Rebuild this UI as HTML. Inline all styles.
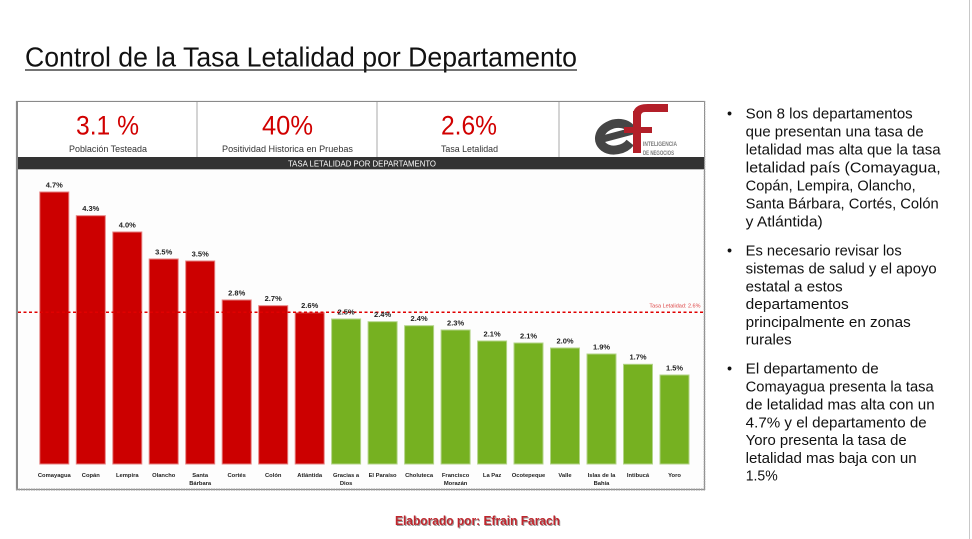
<!DOCTYPE html>
<html>
<head>
<meta charset="utf-8">
<style>
html,body{margin:0;padding:0;background:#fff;}
svg{display:block;}
text{font-family:"Liberation Sans",sans-serif;}
</style>
</head>
<body>
<svg width="972" height="539" viewBox="0 0 972 539" xmlns="http://www.w3.org/2000/svg">
<rect x="0" y="0" width="972" height="539" fill="#ffffff"/>
<line x1="969.5" y1="0" x2="969.5" y2="539" stroke="#c8c8c8" stroke-width="1"/>

<text x="25" y="66.5" font-size="28" fill="#111" textLength="552" lengthAdjust="spacingAndGlyphs">Control de la Tasa Letalidad por Departamento</text>
<line x1="25" y1="70" x2="577" y2="70" stroke="#222" stroke-width="1.3"/>

<rect x="16.5" y="101.5" width="688" height="388" fill="#fdfdfd" stroke="#8a8a8a" stroke-width="1.2"/>
<line x1="17" y1="101" x2="17" y2="490" stroke="#8a8a8a" stroke-width="2"/>
<line x1="16" y1="489.5" x2="705" y2="489.5" stroke="#9a9a9a" stroke-width="2" stroke-dasharray="1.5 1"/>
<line x1="704.5" y1="101" x2="704.5" y2="490" stroke="#9a9a9a" stroke-width="1.5" stroke-dasharray="1.5 1"/>
<rect x="18" y="102" width="686" height="55" fill="#ffffff"/>

<line x1="197" y1="102" x2="197" y2="157" stroke="#a8a8a8" stroke-width="1"/>
<line x1="377" y1="102" x2="377" y2="157" stroke="#a8a8a8" stroke-width="1"/>
<line x1="559" y1="102" x2="559" y2="157" stroke="#a8a8a8" stroke-width="1"/>

<text x="76" y="134.5" font-size="27" fill="#d10000" textLength="63" lengthAdjust="spacingAndGlyphs">3.1 %</text>
<text x="262" y="134.5" font-size="27" fill="#d10000" textLength="51" lengthAdjust="spacingAndGlyphs">40%</text>
<text x="441" y="134.5" font-size="27" fill="#d10000" textLength="56" lengthAdjust="spacingAndGlyphs">2.6%</text>
<text x="69" y="152" font-size="9" fill="#333" textLength="78" lengthAdjust="spacingAndGlyphs">Población Testeada</text>
<text x="222" y="152" font-size="9" fill="#333" textLength="131" lengthAdjust="spacingAndGlyphs">Positividad Historica en Pruebas</text>
<text x="441" y="152" font-size="9" fill="#333" textLength="57" lengthAdjust="spacingAndGlyphs">Tasa Letalidad</text>

<!-- Logo -->
<g>
  <g transform="rotate(-15 616 136)">
    <path d="M633 136 A17 13 0 1 0 628 146" fill="none" stroke="#454545" stroke-width="9"/>
    <rect x="598" y="132" width="38" height="7" fill="#454545"/>
  </g>
  <rect x="633" y="111" width="8" height="42" fill="#b31f29"/>
  <path d="M633 114 Q634 104 648 104 L668 104 L668 112 L645 112 Q641 112 641 116 Z" fill="#b31f29"/>
  <rect x="624" y="127" width="28" height="6" fill="#b31f29"/>
  <text x="643" y="146" font-size="6.5" font-weight="bold" fill="#7a7a7a" textLength="34" lengthAdjust="spacingAndGlyphs">INTELIGENCIA</text>
  <text x="643" y="155" font-size="6.5" font-weight="bold" fill="#7a7a7a" textLength="31" lengthAdjust="spacingAndGlyphs">DE NEGOCIOS</text>
</g>

<rect x="18" y="157" width="686" height="12" fill="#333333"/>
<line x1="18" y1="169.5" x2="704" y2="169.5" stroke="#bdbdbd" stroke-width="1"/>
<text x="288" y="166.5" font-size="8" fill="#ffffff" textLength="148" lengthAdjust="spacingAndGlyphs">TASA LETALIDAD POR DEPARTAMENTO</text>

<g stroke-width="1">
<rect x="39.8" y="192" width="29" height="272" fill="#cc0000" stroke="#e58080"/>
<rect x="76.3" y="215.7" width="29" height="248.3" fill="#cc0000" stroke="#e58080"/>
<rect x="112.8" y="232" width="29" height="232" fill="#cc0000" stroke="#e58080"/>
<rect x="149.2" y="259" width="29" height="205" fill="#cc0000" stroke="#e58080"/>
<rect x="185.7" y="261" width="29" height="203" fill="#cc0000" stroke="#e58080"/>
<rect x="222.2" y="300" width="29" height="164" fill="#cc0000" stroke="#e58080"/>
<rect x="258.7" y="305.7" width="29" height="158.3" fill="#cc0000" stroke="#e58080"/>
<rect x="295.2" y="312.7" width="29" height="151.3" fill="#cc0000" stroke="#e58080"/>
<rect x="331.6" y="319" width="29" height="145" fill="#76b121" stroke="#b2d488"/>
<rect x="368.1" y="321.7" width="29" height="142.3" fill="#76b121" stroke="#b2d488"/>
<rect x="404.6" y="325.7" width="29" height="138.3" fill="#76b121" stroke="#b2d488"/>
<rect x="441.1" y="330" width="29" height="134" fill="#76b121" stroke="#b2d488"/>
<rect x="477.6" y="341" width="29" height="123" fill="#76b121" stroke="#b2d488"/>
<rect x="514.0" y="343" width="29" height="121" fill="#76b121" stroke="#b2d488"/>
<rect x="550.5" y="348" width="29" height="116" fill="#76b121" stroke="#b2d488"/>
<rect x="587.0" y="354" width="29" height="110" fill="#76b121" stroke="#b2d488"/>
<rect x="623.5" y="364.3" width="29" height="99.7" fill="#76b121" stroke="#b2d488"/>
<rect x="660.0" y="375" width="29" height="89" fill="#76b121" stroke="#b2d488"/>
</g>

<line x1="18" y1="312.3" x2="703" y2="312.3" stroke="#e00000" stroke-width="1.5" stroke-dasharray="3 2.5"/>
<text x="700.5" y="307.5" font-size="5.5" fill="#d44" text-anchor="end">Tasa Letalidad: 2.6%</text>

<g font-size="7.5" font-weight="bold" fill="#222" text-anchor="middle">
<text x="54.3" y="187.5">4.7%</text>
<text x="90.8" y="211">4.3%</text>
<text x="127.3" y="227.5">4.0%</text>
<text x="163.7" y="254.5">3.5%</text>
<text x="200.2" y="256.5">3.5%</text>
<text x="236.7" y="295.5">2.8%</text>
<text x="273.2" y="301">2.7%</text>
<text x="309.7" y="308">2.6%</text>
<text x="346.1" y="314.5">2.5%</text>
<text x="382.6" y="317">2.4%</text>
<text x="419.1" y="321">2.4%</text>
<text x="455.6" y="325.5">2.3%</text>
<text x="492.1" y="336.5">2.1%</text>
<text x="528.5" y="338.5">2.1%</text>
<text x="565.0" y="343.5">2.0%</text>
<text x="601.5" y="349.5">1.9%</text>
<text x="638.0" y="359.5">1.7%</text>
<text x="674.5" y="370.5">1.5%</text>
</g>

<g font-size="5.8" font-weight="bold" fill="#222" text-anchor="middle">
<text x="54.3" y="477">Comayagua</text>
<text x="90.8" y="477">Copán</text>
<text x="127.3" y="477">Lempira</text>
<text x="163.7" y="477">Olancho</text>
<text x="200.2" y="477">Santa</text>
<text x="200.2" y="485">Bárbara</text>
<text x="236.7" y="477">Cortés</text>
<text x="273.2" y="477">Colón</text>
<text x="309.7" y="477">Atlántida</text>
<text x="346.1" y="477">Gracias a</text>
<text x="346.1" y="485">Dios</text>
<text x="382.6" y="477">El Paraíso</text>
<text x="419.1" y="477">Choluteca</text>
<text x="455.6" y="477">Francisco</text>
<text x="455.6" y="485">Morazán</text>
<text x="492.1" y="477">La Paz</text>
<text x="528.5" y="477">Ocotepeque</text>
<text x="565.0" y="477">Valle</text>
<text x="601.5" y="477">Islas de la</text>
<text x="601.5" y="485">Bahía</text>
<text x="638.0" y="477">Intibucá</text>
<text x="674.5" y="477">Yoro</text>
</g>

<g font-size="14.5" fill="#111">
<text x="727" y="118.5">•</text>
<text x="745.7" y="118.5" textLength="167" lengthAdjust="spacingAndGlyphs">Son 8 los departamentos</text>
<text x="745.7" y="136.6" textLength="178" lengthAdjust="spacingAndGlyphs">que presentan una tasa de</text>
<text x="745.7" y="154.6" textLength="195" lengthAdjust="spacingAndGlyphs">letalidad mas alta que la tasa</text>
<text x="745.7" y="172.7" textLength="195" lengthAdjust="spacingAndGlyphs">letalidad país (Comayagua,</text>
<text x="745.7" y="190.7" textLength="170" lengthAdjust="spacingAndGlyphs">Copán, Lempira, Olancho,</text>
<text x="745.7" y="208.7" textLength="193" lengthAdjust="spacingAndGlyphs">Santa Bárbara, Cortés, Colón</text>
<text x="745.7" y="226.7" textLength="77" lengthAdjust="spacingAndGlyphs">y Atlántida)</text>

<text x="727" y="255.5">•</text>
<text x="745.7" y="255.5" textLength="156" lengthAdjust="spacingAndGlyphs">Es necesario revisar los</text>
<text x="745.7" y="273.5" textLength="191" lengthAdjust="spacingAndGlyphs">sistemas de salud y el apoyo</text>
<text x="745.7" y="291.3" textLength="97" lengthAdjust="spacingAndGlyphs">estatal a estos</text>
<text x="745.7" y="309" textLength="103" lengthAdjust="spacingAndGlyphs">departamentos</text>
<text x="745.7" y="326.8" textLength="165" lengthAdjust="spacingAndGlyphs">principalmente en zonas</text>
<text x="745.7" y="344.5" textLength="46" lengthAdjust="spacingAndGlyphs">rurales</text>

<text x="727" y="373.3">•</text>
<text x="745.7" y="373.3" textLength="133" lengthAdjust="spacingAndGlyphs">El departamento de</text>
<text x="745.7" y="391.3" textLength="188" lengthAdjust="spacingAndGlyphs">Comayagua presenta la tasa</text>
<text x="745.7" y="409.3" textLength="189" lengthAdjust="spacingAndGlyphs">de letalidad mas alta con un</text>
<text x="745.7" y="427.3" textLength="181" lengthAdjust="spacingAndGlyphs">4.7% y el departamento de</text>
<text x="745.7" y="445.1" textLength="161" lengthAdjust="spacingAndGlyphs">Yoro presenta la tasa de</text>
<text x="745.7" y="463" textLength="171" lengthAdjust="spacingAndGlyphs">letalidad mas baja con un</text>
<text x="745.7" y="480.7" textLength="32" lengthAdjust="spacingAndGlyphs">1.5%</text>
</g>

<text x="396" y="526" font-size="12.5" font-weight="bold" fill="#9a9a9a" textLength="165" lengthAdjust="spacingAndGlyphs">Elaborado por: Efrain Farach</text>
<text x="395" y="525" font-size="12.5" font-weight="bold" fill="#c0262d" textLength="165" lengthAdjust="spacingAndGlyphs">Elaborado por: Efrain Farach</text>
</svg>
</body>
</html>
